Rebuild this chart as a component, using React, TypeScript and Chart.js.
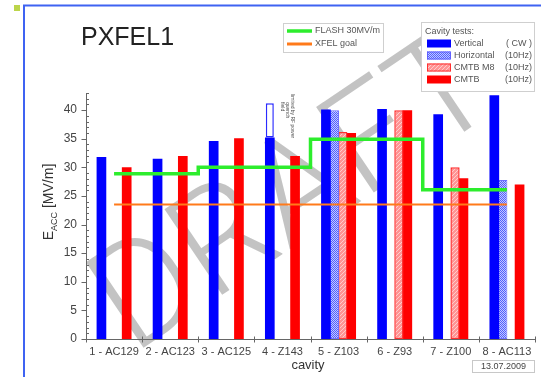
import React, { useEffect, useRef } from 'react';
import { Chart, registerables } from 'chart.js';
Chart.register(...registerables);

const categories = ['1 - AC129', '2 - AC123', '3 - AC125', '4 - Z143', '5 - Z103', '6 - Z93', '7 - Z100', '8 - AC113'];
const vertical = [31.8, 31.5, 34.6, 35.2, 40.1, 40.2, 39.3, 42.6];
const verticalExt: (number[] | null)[] = [null, null, null, [35.2, 41.2], null, null, null, null];
const horizontal = [null, null, null, null, 40.0, null, null, 27.8];
const cmtbM8 = [null, null, null, null, 36.2, 40.0, 30.0, null];
const cmtb = [30.0, 32.0, 35.1, 32.0, 36.0, 40.0, 28.1, 27.0];
const flash30 = [28.9, 28.9, 30.0, 30.0, 34.9, 34.9, 26.1, 26.1];
const xfelGoal = [23.5, 23.5, 23.5, 23.5, 23.5, 23.5, 23.5, 23.5];
const yTickStep = 5;
const yMax = 43;

const FONT = 'Liberation Sans, Arial, sans-serif';

function makePattern(ctx: CanvasRenderingContext2D, size: number, draw: (c: CanvasRenderingContext2D) => void) {
  const c = document.createElement('canvas');
  c.width = size; c.height = size;
  const x = c.getContext('2d')!;
  draw(x);
  return ctx.createPattern(c, 'repeat')!;
}

export default function App() {
  const ref = useRef<HTMLCanvasElement>(null);
  useEffect(() => {
    const canvas = ref.current!;
    const ctx0 = canvas.getContext('2d')!;
    const hPat = makePattern(ctx0, 2, (c) => {
      c.fillStyle = '#c4c8ff'; c.fillRect(0, 0, 2, 2);
      c.fillStyle = '#5060ff'; c.fillRect(0, 0, 1, 1); c.fillRect(1, 1, 1, 1);
    });
    const mPat = makePattern(ctx0, 4, (c) => {
      c.fillStyle = '#ff9494'; c.fillRect(0, 0, 4, 4);
      c.fillStyle = '#ffcccc';
      for (let i = 0; i < 4; i++) c.fillRect(i, 3 - i, 1, 1);
    });

    const deco = {
      id: 'deco',
      beforeDatasetsDraw(chart: any) {
        const c = chart.ctx as CanvasRenderingContext2D;
        c.save();
        c.translate(298, 200);
        c.rotate(-34 * Math.PI / 180);
        c.font = `300 145px Roboto, ${FONT}`;
        c.fillStyle = 'rgba(170,170,170,0.7)';
        c.textAlign = 'center';
        c.textBaseline = 'middle';
        c.fillText('DRAFT', 0, 0);
        c.restore();
      },
      afterDatasetsDraw(chart: any) {
        const c = chart.ctx as CanvasRenderingContext2D;
        const xs = chart.scales.x;
        const ys = chart.scales.y;
        const area = chart.chartArea;
        c.save();
        c.strokeStyle = '#666';
        c.lineWidth = 1;
        const ax = Math.round(area.left) + 0.5;
        c.beginPath();
        c.moveTo(ax, area.top); c.lineTo(ax, area.bottom);
        for (let v = 0; v <= yMax; v += 1) {
          const py = Math.round(ys.getPixelForValue(v)) + 0.5;
          if (v % yTickStep === 0) { c.moveTo(ax - 5, py); c.lineTo(ax, py); }
          else { c.moveTo(ax, py); c.lineTo(ax + 2.5, py); }
        }
        const by = Math.round(area.bottom) + 0.5;
        c.moveTo(area.left, by); c.lineTo(area.right, by);
        for (let i = 0; i <= categories.length; i++) {
          const p = i === 0 ? area.left : i === categories.length ? area.right : (xs.getPixelForValue(i - 1) + xs.getPixelForValue(i)) / 2;
          const px = Math.round(p) + 0.5;
          c.moveTo(px, by - 3); c.lineTo(px, by + 3);
        }
        c.stroke();
        c.restore();
      },
      afterDraw(chart: any) {
        const c = chart.ctx as CanvasRenderingContext2D;
        c.save();
        c.strokeStyle = '#3f63f2';
        c.lineWidth = 2;
        c.beginPath();
        c.moveTo(24, 377); c.lineTo(24, 5.5); c.lineTo(541, 5.5);
        c.stroke();
        c.fillStyle = '#bcd54a';
        c.fillRect(14, 5, 6, 6);
        c.fillStyle = '#222';
        c.font = `25px ${FONT}`;
        c.textBaseline = 'alphabetic';
        c.textAlign = 'left';
        c.fillText('PXFEL1', 81, 45);

        // legend 1
        c.fillStyle = '#fff';
        c.strokeStyle = '#cfcfcf';
        c.lineWidth = 1;
        c.fillRect(283.5, 23.5, 100, 29);
        c.strokeRect(283.5, 23.5, 100, 29);
        c.lineWidth = 3.5;
        c.strokeStyle = '#2ded2d';
        c.beginPath(); c.moveTo(287, 31); c.lineTo(312, 31); c.stroke();
        c.strokeStyle = '#ff7a1a';
        c.lineWidth = 3;
        c.beginPath(); c.moveTo(287, 44); c.lineTo(312, 44); c.stroke();
        c.font = `9px ${FONT}`;
        c.fillStyle = '#555';
        c.textBaseline = 'middle';
        c.fillText('FLASH 30MV/m', 315, 31);
        c.fillText('XFEL goal', 315, 44);

        // legend 2
        c.fillStyle = '#fff';
        c.strokeStyle = '#cfcfcf';
        c.lineWidth = 1;
        c.fillRect(421.5, 22.5, 113, 69);
        c.strokeRect(421.5, 22.5, 113, 69);
        c.fillStyle = '#555';
        c.fillText('Cavity tests:', 425, 32);
        const rows: [string, string, any, string | null][] = [
          ['Vertical', '( CW )', '#0000ff', null],
          ['Horizontal', '(10Hz)', hPat, '#6060ff'],
          ['CMTB M8', '(10Hz)', mPat, '#ff3030'],
          ['CMTB', '(10Hz)', '#ff0000', null],
        ];
        rows.forEach((r, i) => {
          const cy = 43.5 + i * 12;
          c.fillStyle = r[2];
          c.fillRect(427, cy - 4, 24, 8);
          if (r[3]) { c.strokeStyle = r[3]; c.lineWidth = 1; c.strokeRect(427.5, cy - 3.5, 23, 7); }
          c.fillStyle = '#555';
          c.textAlign = 'left';
          c.fillText(r[0], 454, cy);
          c.textAlign = 'right';
          c.fillText(r[1], 532, cy);
        });

        // y title
        c.save();
        c.translate(53, 202);
        c.rotate(-Math.PI / 2);
        c.fillStyle = '#333';
        c.textAlign = 'left';
        c.textBaseline = 'alphabetic';
        const big = `14px ${FONT}`, small = `9px ${FONT}`;
        c.font = big; const w1 = c.measureText('E').width; const w3 = c.measureText(' [MV/m]').width;
        c.font = small; const w2 = c.measureText('ACC').width;
        let sx = -(w1 + w2 + w3) / 2;
        c.font = big; c.fillText('E', sx, 0); sx += w1;
        c.font = small; c.fillText('ACC', sx, 3.5); sx += w2;
        c.font = big; c.fillText(' [MV/m]', sx, 0);
        c.restore();

        // x title
        c.fillStyle = '#333';
        c.font = `13px ${FONT}`;
        c.textAlign = 'center';
        c.textBaseline = 'middle';
        c.fillText('cavity', 308, 365);

        // date box
        c.fillStyle = '#fff';
        c.strokeStyle = '#c8c8c8';
        c.lineWidth = 1;
        c.fillRect(472.5, 360.5, 62, 12);
        c.strokeRect(472.5, 360.5, 62, 12);
        c.fillStyle = '#444';
        c.font = `9px ${FONT}`;
        c.fillText('13.07.2009', 503.5, 367);

        // small rotated note beside cavity 4
        c.save();
        c.translate(292, 94);
        c.rotate(Math.PI / 2);
        c.font = `5px ${FONT}`;
        c.fillStyle = '#555';
        c.textAlign = 'left';
        c.textBaseline = 'middle';
        c.fillText('limited by RF power', 0, 0);
        c.fillText('quench', 8, 5);
        c.fillText('field', 8, 10);
        c.restore();

        c.restore();
      },
    };

    const chart = new Chart(canvas, {
      type: 'bar',
      data: {
        labels: categories,
        datasets: [
          { type: 'line', label: 'FLASH 30MV/m', data: flash30, borderColor: '#2ded2d', borderWidth: 3.5, stepped: 'middle', pointRadius: 0, fill: false, order: 0, stack: 'g' } as any,
          { type: 'line', label: 'XFEL goal', data: xfelGoal, borderColor: '#ff7a1a', borderWidth: 2, pointRadius: 0, fill: false, order: 0, stack: 'o' } as any,
          { type: 'bar', label: 'Vertical', data: vertical, backgroundColor: '#0000ff', stack: 'v', order: 1, categoryPercentage: 0.6, barPercentage: 1.15 },
          { type: 'bar', label: 'Vertical ext', data: verticalExt as any, backgroundColor: '#ffffff', borderColor: '#2a2aff', borderWidth: 1.5, borderSkipped: false, stack: 'v', order: 1, categoryPercentage: 0.6, barPercentage: 0.95 },
          { type: 'bar', label: 'Horizontal', data: horizontal, backgroundColor: hPat, borderColor: '#7070ff', borderWidth: 1, borderSkipped: false, stack: 'h', order: 1, categoryPercentage: 0.6, barPercentage: 1.1 },
          { type: 'bar', label: 'CMTB M8', data: cmtbM8, backgroundColor: mPat, borderColor: '#ff3030', borderWidth: 1.5, borderSkipped: false, stack: 'm', order: 1, categoryPercentage: 0.6, barPercentage: 1.1 },
          { type: 'bar', label: 'CMTB', data: cmtb, backgroundColor: '#ff0000', stack: 'c', order: 1, categoryPercentage: 0.6, barPercentage: 1.15 },
        ],
      },
      options: {
        responsive: false,
        devicePixelRatio: 1,
        animation: false,
        layout: { padding: { top: 93, right: 6, left: 0, bottom: 0 } },
        plugins: { legend: { display: false }, tooltip: { enabled: false }, title: { display: false } },
        scales: {
          x: {
            stacked: true,
            offset: true,
            grid: { display: false, drawTicks: false },
            border: { display: false },
            ticks: { color: '#444', font: { family: FONT, size: 11 }, padding: 6, maxRotation: 0, autoSkip: false },
            afterFit: (s: any) => { s.height = 38; },
          },
          y: {
            stacked: false,
            min: 0,
            max: yMax,
            grid: { display: false, drawTicks: false },
            border: { display: false },
            ticks: { stepSize: yTickStep, color: '#444', font: { family: FONT, size: 12 }, padding: 9 },
            afterBuildTicks: (s: any) => { s.ticks = s.ticks.filter((t: any) => t.value % yTickStep === 0); },
            afterFit: (s: any) => { s.width = 86; },
          },
        },
      },
      plugins: [deco],
    });
    return () => chart.destroy();
  }, []);
  return (
    <div style={{ position: 'absolute', left: 0, top: 0, width: 541, height: 377, background: '#fff' }}>
      <canvas ref={ref} width={541} height={377} style={{ display: 'block' }} />
    </div>
  );
}
